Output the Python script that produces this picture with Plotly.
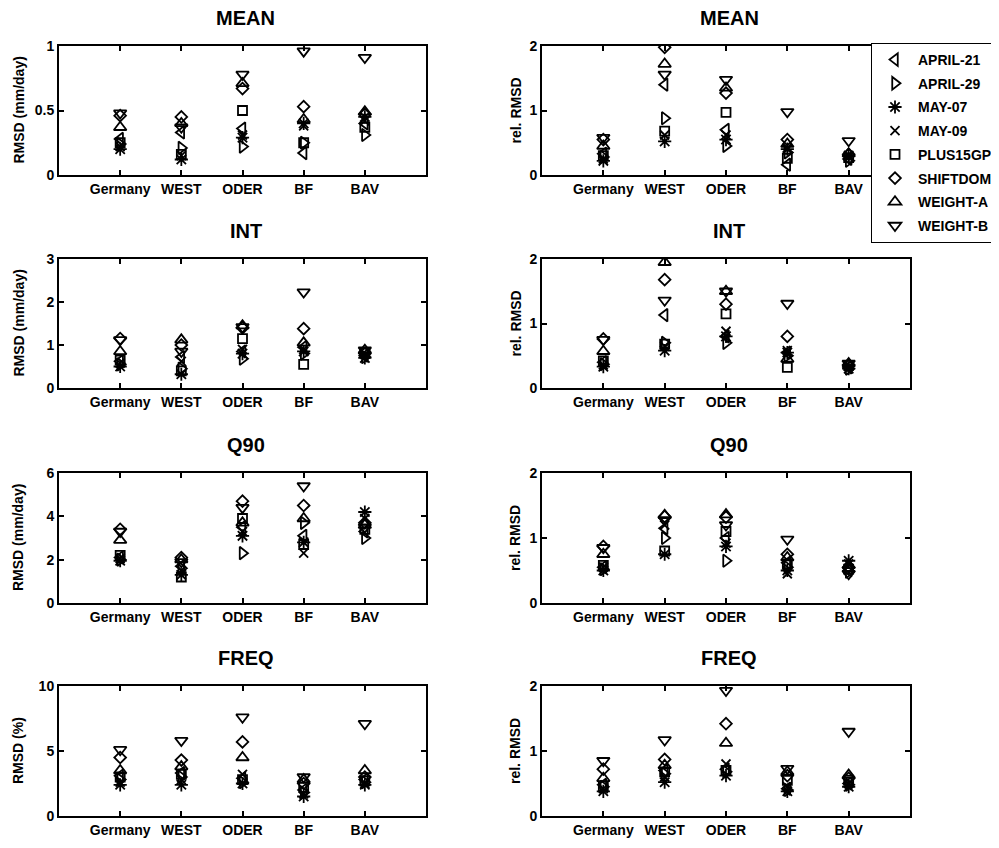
import plotly.graph_objects as go

regions = ["Germany", "WEST", "ODER", "BF", "BAV"]
series = ["APRIL-21", "APRIL-29", "MAY-07", "MAY-09", "PLUS15GP", "SHIFTDOM", "WEIGHT-A", "WEIGHT-B"]
symbols = ["triangle-left-open", "triangle-right-open", "asterisk-open", "x-thin-open",
           "square-open", "diamond-open", "triangle-up-open", "triangle-down-open"]
sizes = [11, 11, 11, 9, 9, 9, 11, 11]

# rows follow `series`, columns follow `regions`
mean_rmsd = [
    [0.28, 0.33, 0.36, 0.17, 0.40],
    [0.24, 0.21, 0.22, 0.25, 0.31],
    [0.20, 0.12, 0.29, 0.40, 0.45],
    [0.22, 0.15, 0.31, 0.38, 0.42],
    [0.25, 0.16, 0.50, 0.25, 0.37],
    [0.46, 0.45, 0.67, 0.53, 0.47],
    [0.37, 0.40, 0.71, 0.43, 0.49],
    [0.48, 0.37, 0.78, 0.96, 0.91],
]
mean_rel = [
    [0.33, 1.40, 0.70, 0.16, 0.25],
    [0.28, 0.88, 0.45, 0.35, 0.22],
    [0.22, 0.52, 0.55, 0.40, 0.30],
    [0.25, 0.62, 0.62, 0.42, 0.28],
    [0.30, 0.68, 0.97, 0.26, 0.27],
    [0.55, 1.98, 1.27, 0.55, 0.32],
    [0.45, 1.72, 1.35, 0.48, 0.33],
    [0.58, 1.56, 1.48, 0.98, 0.53],
]
int_rmsd = [
    [0.62, 0.72, 0.85, 0.95, 0.75],
    [0.55, 0.45, 0.68, 0.80, 0.72],
    [0.50, 0.32, 0.80, 0.85, 0.70],
    [0.58, 0.62, 0.90, 0.90, 0.78],
    [0.65, 0.40, 1.15, 0.55, 0.82],
    [1.15, 1.00, 1.40, 1.38, 0.80],
    [0.85, 1.12, 1.45, 1.05, 0.88],
    [1.12, 0.85, 1.42, 2.23, 0.88],
]
int_rel = [
    [0.40, 1.13, 0.80, 0.55, 0.32],
    [0.37, 0.70, 0.70, 0.50, 0.30],
    [0.33, 0.58, 0.80, 0.55, 0.30],
    [0.36, 0.65, 0.88, 0.58, 0.33],
    [0.42, 0.68, 1.15, 0.32, 0.35],
    [0.76, 1.68, 1.30, 0.80, 0.36],
    [0.57, 1.95, 1.50, 0.45, 0.38],
    [0.75, 1.36, 1.50, 1.31, 0.38],
]
q90_rmsd = [
    [2.1, 1.7, 3.5, 3.1, 3.3],
    [2.0, 1.6, 2.3, 3.7, 3.0],
    [1.95, 1.3, 3.1, 2.8, 4.2],
    [2.05, 1.5, 3.3, 2.3, 3.9],
    [2.2, 1.2, 3.9, 2.7, 3.4],
    [3.4, 2.1, 4.7, 4.5, 3.7],
    [2.9, 2.0, 3.7, 3.9, 3.6],
    [3.3, 1.9, 4.4, 5.4, 3.5],
]
q90_rel = [
    [0.55, 1.15, 1.00, 0.62, 0.50],
    [0.52, 1.00, 0.65, 0.55, 0.48],
    [0.50, 0.75, 0.87, 0.50, 0.65],
    [0.55, 1.20, 0.92, 0.45, 0.60],
    [0.58, 0.80, 1.10, 0.60, 0.52],
    [0.87, 1.33, 1.32, 0.75, 0.55],
    [0.75, 1.35, 1.36, 0.70, 0.58],
    [0.85, 1.28, 1.20, 0.98, 0.45],
]
freq_rmsd = [
    [3.1, 3.3, 2.9, 2.0, 2.8],
    [2.8, 3.0, 2.6, 1.8, 2.6],
    [2.4, 2.4, 2.5, 1.5, 2.4],
    [2.6, 2.8, 3.2, 1.7, 2.5],
    [3.0, 3.2, 2.8, 2.2, 2.7],
    [4.5, 4.3, 5.7, 2.5, 3.0],
    [3.5, 3.8, 4.5, 2.8, 3.5],
    [5.1, 5.8, 7.6, 3.0, 7.1],
]
freq_rel = [
    [0.48, 0.70, 0.72, 0.42, 0.50],
    [0.45, 0.65, 0.68, 0.40, 0.48],
    [0.38, 0.52, 0.62, 0.38, 0.45],
    [0.42, 0.60, 0.80, 0.45, 0.50],
    [0.46, 0.68, 0.70, 0.55, 0.55],
    [0.72, 0.87, 1.42, 0.62, 0.58],
    [0.58, 0.78, 1.12, 0.68, 0.63],
    [0.85, 1.17, 1.93, 0.73, 1.30],
]

# panel: title, data, y label, y range, y ticks, column, row
panels = [
    ("MEAN", mean_rmsd, "RMSD (mm/day)", [0, 1], [0, 0.5, 1], 0, 0),
    ("MEAN", mean_rel, "rel. RMSD", [0, 2], [0, 1, 2], 1, 0),
    ("INT", int_rmsd, "RMSD (mm/day)", [0, 3], [0, 1, 2, 3], 0, 1),
    ("INT", int_rel, "rel. RMSD", [0, 2], [0, 1, 2], 1, 1),
    ("Q90", q90_rmsd, "RMSD (mm/day)", [0, 6], [0, 2, 4, 6], 0, 2),
    ("Q90", q90_rel, "rel. RMSD", [0, 2], [0, 1, 2], 1, 2),
    ("FREQ", freq_rmsd, "RMSD (%)", [0, 10], [0, 5, 10], 0, 3),
    ("FREQ", freq_rel, "rel. RMSD", [0, 2], [0, 1, 2], 1, 3),
]

W, H = 999, 848
OFF = 8  # page body margin offset of the figure on screen
col_px = [(59, 426), (542, 910)]
row_px = [(46, 175), (259, 388), (473, 603), (686, 816)]
ylab_x = [18, 515]


def px_x(v):
    return (v - OFF) / W


def px_y(v):
    return 1 - (v - OFF) / H


FONT = "Liberation Sans"
fig = go.Figure()
annotations = []
layout = {}

for i, (title, data, ylab, yr, yt, c, r) in enumerate(panels):
    n = "" if i == 0 else str(i + 1)
    xa, ya = "x" + n, "y" + n
    for s, name in enumerate(series):
        fig.add_trace(go.Scatter(
            x=regions, y=data[s], mode="markers", name=name,
            xaxis=xa, yaxis=ya, showlegend=(i == 0), legendgroup=name,
            marker=dict(symbol=symbols[s], size=sizes[s], color="black",
                        line=dict(color="black", width=1.8)),
        ))
    x0, x1 = col_px[c]
    top, bot = row_px[r]
    common = dict(showline=True, linecolor="black", linewidth=2, mirror="ticks",
                  ticks="inside", ticklen=5, tickwidth=1.5, tickcolor="black",
                  showgrid=False, zeroline=False, automargin=False,
                  tickfont=dict(family=FONT, size=14, color="black", weight="bold"))
    layout["xaxis" + n] = dict(domain=[px_x(x0), px_x(x1)], anchor=ya, type="category",
                               categoryorder="array", categoryarray=regions,
                               range=[-1, 5], **common)
    layout["yaxis" + n] = dict(domain=[px_y(bot), px_y(top)], anchor=xa,
                               range=yr, tickvals=yt, **common)
    annotations.append(dict(text=title, xref="paper", yref="paper",
                            x=px_x((x0 + x1) / 2 + 3), y=px_y(top - 28),
                            xanchor="center", yanchor="middle", showarrow=False,
                            font=dict(family=FONT, size=20, color="black", weight="bold")))
    annotations.append(dict(text=ylab, xref="paper", yref="paper",
                            x=px_x(ylab_x[c]), y=px_y((top + bot) / 2), textangle=-90,
                            xanchor="center", yanchor="middle", showarrow=False,
                            font=dict(family=FONT, size=14, color="black", weight="bold")))

fig.update_layout(
    template="none",
    width=W, height=H, margin=dict(l=0, r=0, t=0, b=0, pad=0, autoexpand=False),
    paper_bgcolor="white", plot_bgcolor="white",
    annotations=annotations,
    legend=dict(x=px_x(871), y=px_y(43), xanchor="left", yanchor="top",
                bgcolor="white", bordercolor="black", borderwidth=1,
                tracegroupgap=2.5, itemwidth=36,
                font=dict(family=FONT, size=14, color="black", weight="bold")),
    **layout,
)

fig.write_html("out.html")
